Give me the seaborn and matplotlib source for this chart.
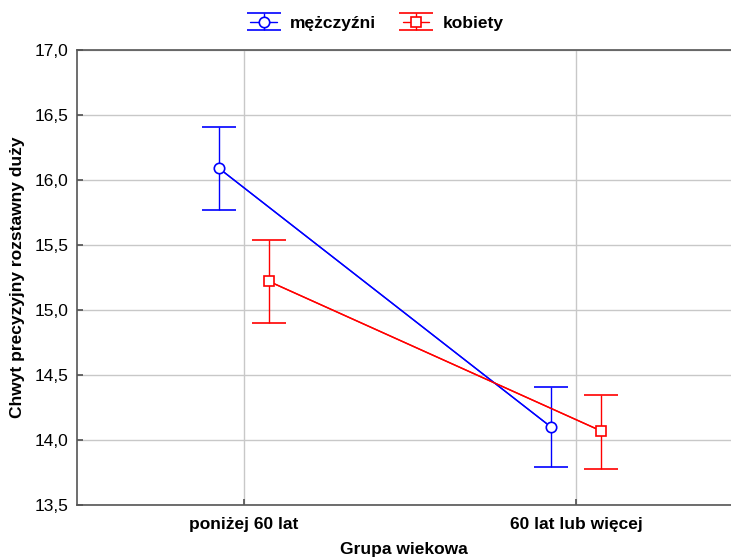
import matplotlib
matplotlib.use("Agg")
import matplotlib.pyplot as plt
import seaborn as sns
import pandas as pd
import numpy as np
from matplotlib.ticker import FuncFormatter

groups = ["poniżej 60 lat", "60 lat lub więcej"]
series = ["mężczyźni", "kobiety"]
men_mean = [16.09, 14.10]
men_lo = [15.77, 13.79]
men_hi = [16.41, 14.41]
women_mean = [15.22, 14.07]
women_lo = [14.90, 13.78]
women_hi = [15.54, 14.35]
yticks = [13.5, 14.0, 14.5, 15.0, 15.5, 16.0, 16.5, 17.0]

sns.set_theme(style="white")
plt.rcParams['font.family'] = ['Liberation Sans', 'DejaVu Sans']
plt.rcParams.update({"text.color": "black", "axes.labelcolor": "black",
                     "xtick.color": "black", "ytick.color": "black"})

fig = plt.figure(figsize=(7.31, 5.59), dpi=100)
W, H = 731, 559
left, right, top, bottom = 77, 731, 50, 505
ax = fig.add_axes([left / W, 1 - bottom / H, (right - left) / W, (bottom - top) / H])

colors = {"mężczyźni": "#0000ff", "kobiety": "#ff0000"}
markers = {"mężczyźni": "o", "kobiety": "s"}
offsets = {"mężczyźni": -25 / 332, "kobiety": 25 / 332}
data = {"mężczyźni": (men_mean, men_lo, men_hi), "kobiety": (women_mean, women_lo, women_hi)}

rows = []
for s in series:
    m, lo, hi = data[s]
    for i, g in enumerate(groups):
        rows.append({"x": i + offsets[s], "y": m[i], "lo": lo[i], "hi": hi[i], "seria": s})
df = pd.DataFrame(rows)

sns.lineplot(data=df, x="x", y="y", hue="seria", style="seria", palette=colors,
             markers=markers, dashes=False, ax=ax, linewidth=1, markersize=7.5,
             markerfacecolor="white", markeredgewidth=1.2, legend=False, zorder=3)
handles = []
for s in series:
    sub = df[df.seria == s]
    h = ax.errorbar(sub.x, sub.y, yerr=[sub.y - sub.lo, sub.hi - sub.y], fmt=markers[s],
                    color=colors[s], mfc="white", mec=colors[s], ms=7.5, mew=1.2,
                    elinewidth=1, capsize=12, capthick=1, zorder=4, linestyle='-', lw=1)
    handles.append(h)

ax.set_xlim(-167 / 332, 1 + 155 / 332)
ax.set_ylim(13.5, 17.0)
ax.set_xticks([0, 1])
ax.set_xticklabels(groups, fontweight="bold", fontsize=12.5)
ax.set_yticks(yticks)
ax.yaxis.set_major_formatter(FuncFormatter(lambda v, p: f"{v:.1f}".replace(".", ",")))
ax.tick_params(axis="y", labelsize=12.5, direction="in", length=4, color="#555555", left=True, pad=6)
ax.tick_params(axis="x", direction="in", length=4, color="#555555", bottom=True, pad=9)
ax.grid(True, color="#c8c8c8", linewidth=1)
ax.set_axisbelow(True)
for sp in ["left", "bottom", "top"]:
    ax.spines[sp].set_color("#555555")
    ax.spines[sp].set_linewidth(1.2)
ax.spines["right"].set_visible(False)

ax.set_xlabel("Grupa wiekowa", fontweight="bold", fontsize=12.5, labelpad=7)
ax.set_ylabel("Chwyt precyzyjny rozstawny duży", fontweight="bold", fontsize=12.5, labelpad=7)

leg = fig.legend(handles, series, loc="center", bbox_to_anchor=(377 / W, 1 - 23 / H), ncol=2,
                 frameon=False, prop={"weight": "bold", "size": 12.5}, handlelength=1.5,
                 columnspacing=1.6, handletextpad=0.75)

fig.savefig("out.png", dpi=100)
